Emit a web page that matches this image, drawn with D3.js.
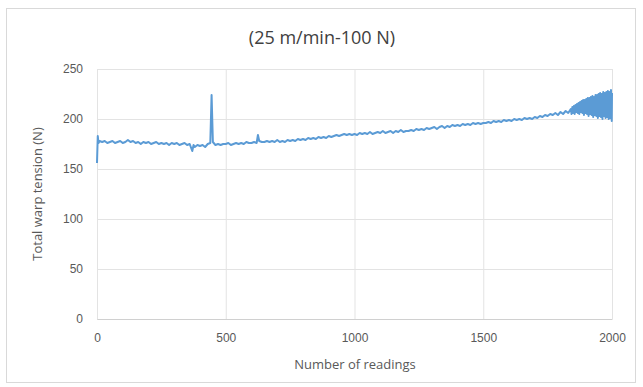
<!DOCTYPE html>
<html>
<head>
<meta charset="utf-8">
<script src="https://cdn.jsdelivr.net/npm/d3@7"></script>
<style>
  html, body { margin: 0; padding: 0; background: #fff; }
  svg { display: block; font-family: "Open Sans", "DejaVu Sans", sans-serif; }
</style>
</head>
<body>
<svg id="chart" width="643" height="387"></svg>
<script>
const chartTitle = "(25 m/min-100 N)";
const xTitle = "Number of readings";
const yTitle = "Total warp tension (N)";
const xTicks = [0, 500, 1000, 1500, 2000];
const yTicks = [0, 50, 100, 150, 200, 250];

const readings = [
  0,3,6,10,20,30,40,50,60,70,80,90,100,110,120,130,140,150,160,170,180,190,200,
  210,220,230,240,250,260,270,280,290,300,310,320,330,340,350,360,370,375,380,390,
  400,410,420,430,440,445,450,460,470,480,490,500,510,520,530,540,550,560,570,580,
  590,600,610,620,625,630,640,650,660,670,680,690,700,710,720,730,740,750,760,770,
  780,790,800,810,820,830,840,850,860,870,880,890,900,910,920,930,940,950,960,970,
  980,990,1000,1010,1020,1030,1040,1050,1060,1070,1080,1090,1100,1110,1120,1130,
  1140,1150,1160,1170,1180,1190,1200,1210,1220,1230,1240,1250,1260,1270,1280,1290,
  1300,1310,1320,1330,1340,1350,1360,1370,1380,1390,1400,1410,1420,1430,1440,1450,
  1460,1470,1480,1490,1500,1510,1520,1530,1540,1550,1560,1570,1580,1590,1600,1610,
  1620,1630,1640,1650,1660,1670,1680,1690,1700,1710,1720,1730,1740,1750,1760,1770,
  1780,1790,1800,1810,1820,1830,
  1840,1843,1846,1849,1852,1855,1858,1861,1864,1867,1870,1873,1876,1879,1882,1885,
  1888,1891,1894,1897,1900,1903,1906,1909,1912,1915,1918,1921,1924,1927,1930,1933,
  1936,1939,1942,1945,1948,1951,1954,1957,1960,1963,1966,1969,1972,1975,1978,1981,
  1984,1987,1990,1993,1996,1999,2000
];
const tension = [
  156,183,176,178,177,178,176,177,178,176,177,178,176,177,179,177,178,176,177,175,177,176,177,
  175,176,177,175,176,175,176,174,176,175,176,174,175,176,174,175,168,174,172,174,
  173,174,172,175,176,224,177,174,175,174,175,175,176,174,175,176,175,176,175,177,
  176,176,177,176,184,178,177,177,178,177,178,177,179,177,178,177,179,178,179,178,
  180,179,180,179,181,180,181,180,182,181,182,181,183,182,183,184,183,184,185,184,
  185,184,185,184,186,185,186,185,187,185,186,187,186,188,186,187,
  188,186,188,187,189,187,188,188,189,188,190,189,190,189,191,190,
  191,192,190,192,193,191,193,192,194,193,194,193,195,194,195,194,
  196,195,196,195,196,196,197,196,198,197,198,197,199,198,199,198,
  200,199,200,199,201,200,201,200,202,201,203,202,204,203,205,204,
  206,204,207,205,208,206,
  210,205,212,206,213,205,214,207,215,206,216,205,217,207,218,206,
  219,204,219,206,220,205,221,203,221,205,222,204,223,202,222,204,
  224,203,224,201,225,203,226,202,225,200,227,203,226,201,227,202,
  228,200,227,201,229,198,226
];

const svg = d3.select("#chart");
const W = 643, H = 387;
const m = { left: 97, right: 643 - 612, top: 69, bottom: 387 - 319 };

svg.append("rect")
  .attr("x", 6.5).attr("y", 8.5)
  .attr("width", 629).attr("height", 374)
  .attr("fill", "#fff").attr("stroke", "#d9d9d9");

const x = d3.scaleLinear().domain([0, 2000]).range([m.left, W - m.right]);
const y = d3.scaleLinear().domain([0, 250]).range([H - m.bottom, m.top]);

// gridlines
const gy = svg.append("g")
  .attr("transform", `translate(${m.left},0)`)
  .call(d3.axisLeft(y).tickValues(yTicks).tickSize(-(W - m.right - m.left)).tickFormat(""));
gy.select(".domain").remove();
gy.selectAll("line").attr("stroke", "#e3e3e3");

const gx = svg.append("g")
  .attr("transform", `translate(0,${H - m.bottom})`)
  .call(d3.axisBottom(x).tickValues(xTicks).tickSize(-(H - m.bottom - m.top)).tickFormat(""));
gx.select(".domain").remove();
gx.selectAll("line").attr("stroke", "#e3e3e3");

// axis labels
const ax = svg.append("g")
  .attr("transform", `translate(0,${H - m.bottom})`)
  .call(d3.axisBottom(x).tickValues(xTicks).tickSize(0).tickPadding(14).tickFormat(d3.format("d")));
ax.select(".domain").attr("stroke", "#d0d0d0");
ax.selectAll("text").attr("fill", "#595959").attr("font-size", 12);

const ay = svg.append("g")
  .attr("transform", `translate(${m.left},0)`)
  .call(d3.axisLeft(y).tickValues(yTicks).tickSize(0).tickPadding(14).tickFormat(d3.format("d")));
ay.select(".domain").remove();
ay.selectAll("text").attr("fill", "#595959").attr("font-size", 12);

// line
const data = readings.map((r, i) => ({ r, v: tension[i] }));
svg.append("path")
  .datum(data)
  .attr("fill", "none")
  .attr("stroke", "#5b9bd5")
  .attr("stroke-width", 2)
  .attr("stroke-linejoin", "round")
  .attr("d", d3.line().x(d => x(d.r)).y(d => y(d.v)));

// titles
svg.append("text")
  .attr("x", 322).attr("y", 44)
  .attr("text-anchor", "middle")
  .attr("font-size", 18).attr("fill", "#404040")
  .text(chartTitle);

svg.append("text")
  .attr("x", 355).attr("y", 369)
  .attr("text-anchor", "middle")
  .attr("font-size", 13).attr("fill", "#595959")
  .text(xTitle);

svg.append("text")
  .attr("transform", `translate(42,${(m.top + H - m.bottom) / 2}) rotate(-90)`)
  .attr("text-anchor", "middle")
  .attr("font-size", 13).attr("fill", "#595959")
  .text(yTitle);
</script>
</body>
</html>
